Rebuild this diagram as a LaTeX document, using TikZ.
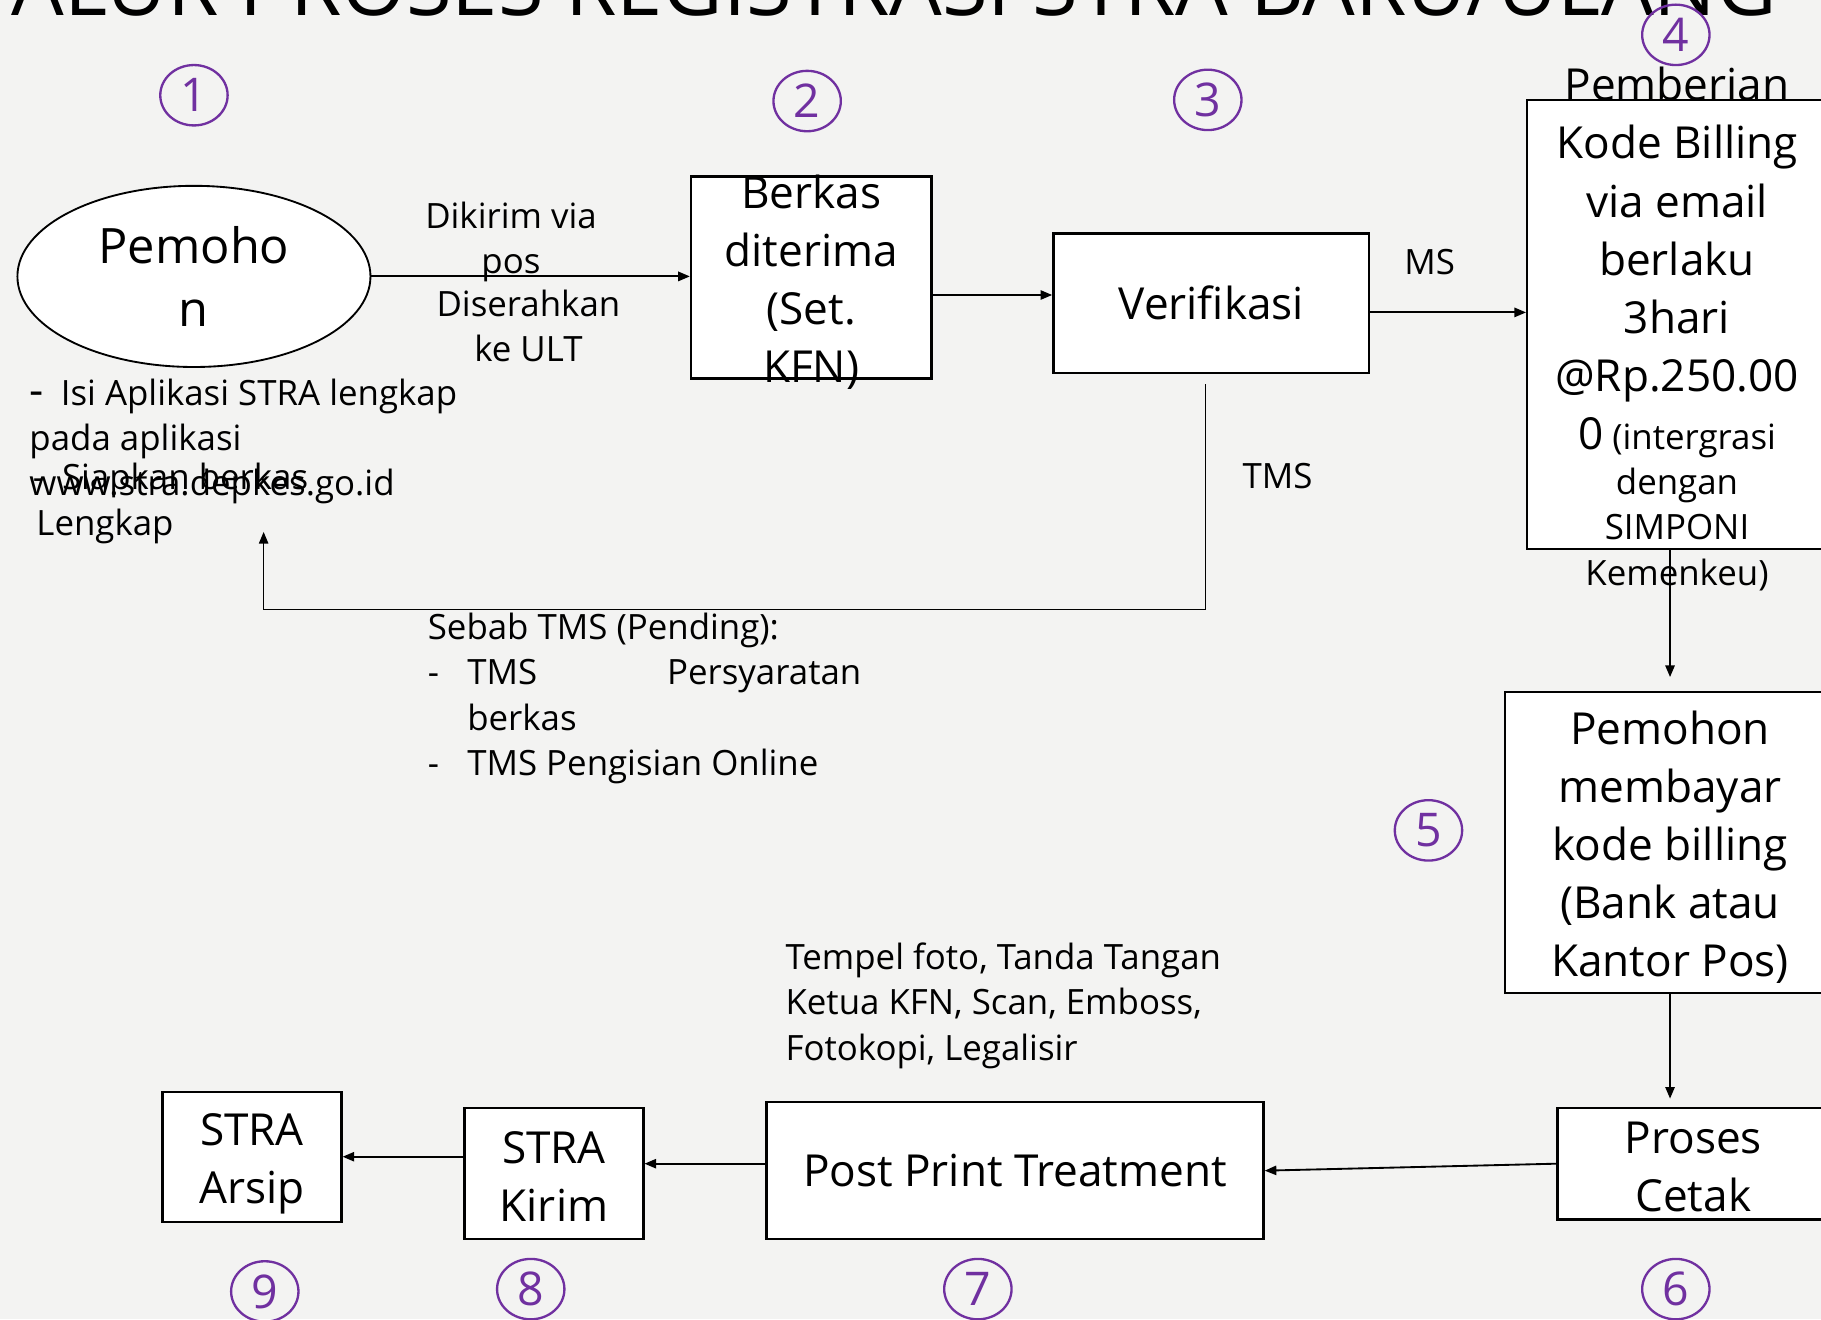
\documentclass[tikz,border=0pt]{standalone}
\usepackage{fontspec}
\setmainfont{Open Sans}
\usetikzlibrary{shapes,arrows.meta}
\definecolor{latar}{HTML}{F3F3F2}
\definecolor{ungu}{HTML}{7030A0}
\tikzset{
kotak/.style={draw, fill=white, line width=1pt, inner sep=0pt},
besar/.style={font=\fontsize{19}{25}\selectfont, align=center, inner sep=0pt},
kecil/.style={font=\fontsize{15}{19.5}\selectfont, inner sep=0pt},
nomor/.style={draw=ungu, text=ungu, ellipse, line width=1pt, minimum width=29pt,
    minimum height=26pt, inner sep=0pt, font=\fontsize{20}{20}\selectfont},
panah/.style={-{Triangle[length=5pt,width=4pt]}, line width=0.8pt}
}

\begin{document}
\begin{tikzpicture}[x=0.5pt, y=-0.5pt]
	\useasboundingbox (0,0) rectangle (1568,1136);
	\clip (0,0) rectangle (1568,1136);
	\fill[latar] (0,0) rectangle (1568,1136);
	\node[anchor=base] (judul) at (770,13) {\resizebox{760pt}{!}{\fontsize{30}{30}\selectfont ALUR PROSES REGISTRASI STRA BARU/ULANG}};
	% nomor langkah
	\foreach \i/\x/\y in {1/167/82, 2/695/87, 3/1040/86, 4/1443/30, 5/1230/715,
		6/1443/1110, 7/842/1110, 8/457/1110, 9/228/1112}
		\node[nomor] (n\i) at (\x,\y) {\i};
	% baris atas
	\node[draw, ellipse, fill=white, line width=0.8pt, minimum width=152pt, minimum height=78pt,
		font=\fontsize{21}{27.5}\selectfont, align=center, inner sep=0pt] (pemohon) at (167,238) {Pemoho\\n};
	\node[kotak, minimum width=103.5pt, minimum height=87pt] (b2) at (698.5,239) {};
	\node[besar] (t2) at (698.5,243) {Berkas\\diterima\\(Set.\\KFN)};
	\node[kotak, besar, minimum width=136pt, minimum height=60pt] (b3) at (1043,261) {Verifikasi};
	\node[kotak, minimum width=132.5pt, minimum height=193.5pt] (b4) at (1447.5,279.5) {};
	\node[besar] (t4a) at (1444,202) {Pemberian\\Kode Billing\\via email\\berlaku\\3hari\\@Rp.250.00};
	\node[kecil, align=center] (t4b) at (1444,434) {{\fontsize{19}{19}\selectfont 0} (intergrasi\\dengan\\SIMPONI\\Kemenkeu)};
	% kolom kanan
	\node[kotak, minimum width=142pt, minimum height=129.5pt] (b5) at (1438,725.5) {};
	\node[besar] (t5) at (1438,729.5) {Pemohon\\membayar\\kode billing\\(Bank atau\\Kantor Pos)};
	\node[kotak, minimum width=119.5pt, minimum height=48pt] (b6) at (1460.5,1002) {};
	\node[besar] (t6) at (1458,1004.5) {Proses\\Cetak};
	% baris bawah
	\node[kotak, besar, minimum width=214pt, minimum height=59pt] (b7) at (874,1008) {Post Print Treatment};
	\node[kotak, minimum width=77pt, minimum height=56.5pt] (b8) at (477,1010.5) {};
	\node[besar] (t8) at (477,1013) {STRA\\Kirim};
	\node[kotak, minimum width=77pt, minimum height=56pt] (b9) at (217,996) {};
	\node[besar] (t9) at (217,1002) {STRA\\Arsip};
	% keterangan
	\node[kecil, align=center] (kirim) at (440,208.5) {Dikirim via\\pos};
	\node[kecil, align=center] (serah) at (455,280.5) {Diserahkan\\ke ULT};
	\node[kecil] (ms) at (1231,226) {MS};
	\node[kecil] (tms) at (1100,410) {TMS};
	\node[kecil, align=left, anchor=west] (isi) at (25,380) {\makebox[13.5pt][l]{\fontsize{19}{19}\selectfont -}Isi Aplikasi STRA lengkap\\pada aplikasi\\www.stra.depkes.go.id};
	\node[kecil, align=left, anchor=west] (siap) at (28,433.5) {\makebox[12.5pt][l]{-}Siapkan berkas\\\hspace*{1.5pt}Lengkap};
	\node[kecil, align=left, anchor=west] (sebab) at (368,601.5) {Sebab TMS (Pending):\\
		\makebox[17pt][l]{-}\makebox[86pt][l]{TMS}Persyaratan\\
		\hspace*{17pt}berkas\\
		\makebox[17pt][l]{-}TMS Pengisian Online};
	\node[kecil, align=left, anchor=west] (tempel) at (676,866) {Tempel foto, Tanda Tangan\\Ketua KFN, Scan, Emboss,\\Fotokopi, Legalisir};
	% panah
	\coordinate (tmsA) at (1038,331);
	\coordinate (balik) at (227,458);
	\coordinate (m5) at (1438,583);
	\coordinate (m6) at (1438,946);
	\draw[panah] (pemohon.east) -- (b2.west |- pemohon.east);
	\draw[panah] ([yshift=-7.5pt]b2.east) -- ([yshift=-7.5pt]b2.east -| b3.west);
	\draw[panah] ([yshift=-4pt]b3.east) -- ([yshift=-4pt]b3.east -| b4.west);
	\draw[panah, line width=0.6pt] (tmsA) -- ++(0,194) -| (balik);
	\draw[panah] (b4.south -| m5) -- (m5);
	\draw[panah] (b5.south -| m6) -- (m6);
	\draw[panah] (b6.west) -- (b7.east);
	\draw[panah] ([yshift=3pt]b7.west) -- ([yshift=3pt]b7.west -| b8.east);
	\draw[panah] (b8.west |- b9.east) -- (b9.east);
\end{tikzpicture}
\end{document}
